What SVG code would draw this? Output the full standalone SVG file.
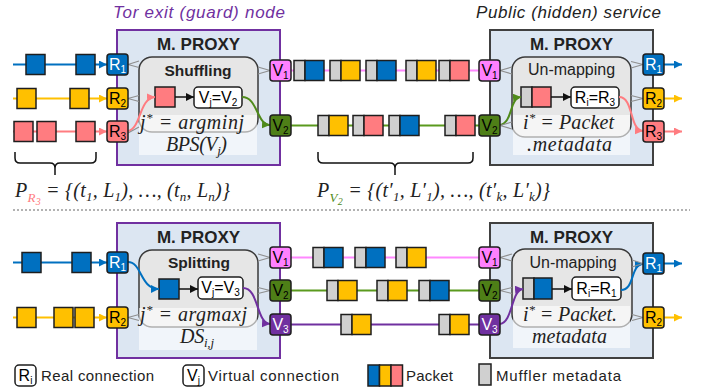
<svg xmlns="http://www.w3.org/2000/svg" width="702" height="391" viewBox="0 0 702 391">
<style>
.sans{font-family:'Liberation Sans',Arial,sans-serif}
.math{font-family:'Liberation Serif','Times New Roman',serif;font-style:italic;font-size:20px;fill:#222}
.pk{stroke:#1e1e1e;stroke-width:1.5}
.g{fill:#d0d0d0}.b{fill:#0070c0}.y{fill:#ffc000}.r{fill:#ff7c80}
.port{stroke:#1e1e1e;stroke-width:1.5}
.pl{font-family:'Liberation Sans',Arial,sans-serif;font-size:16px;text-anchor:middle}
.wedge{stroke:#8f8f8f;stroke-width:1.2;fill:none}
.outer{fill:#dce6f2;stroke-width:2}
.inner{fill:#e6e6e6;stroke:#3a3a3a;stroke-width:1.5}
.veil{fill:#ffffff;opacity:0.6}
.wbox{fill:#ffffff;stroke:#1e1e1e;stroke-width:1.5}
.title{font-family:'Liberation Sans',Arial,sans-serif;font-size:17px;font-weight:bold;text-anchor:middle;fill:#222}
.leg{font-family:'Liberation Sans',Arial,sans-serif;font-size:15px;fill:#222}
</style>
<defs>
<marker id="aBlue" markerUnits="userSpaceOnUse" markerWidth="9" markerHeight="9" refX="8" refY="4" orient="auto"><path d="M0,0 L8,4 L0,8 z" fill="#0070c0"/></marker>
<marker id="aYel" markerUnits="userSpaceOnUse" markerWidth="9" markerHeight="9" refX="8" refY="4" orient="auto"><path d="M0,0 L8,4 L0,8 z" fill="#ffc000"/></marker>
<marker id="aRed" markerUnits="userSpaceOnUse" markerWidth="9" markerHeight="9" refX="8" refY="4" orient="auto"><path d="M0,0 L8,4 L0,8 z" fill="#ff7c80"/></marker>
<marker id="aGrn" markerUnits="userSpaceOnUse" markerWidth="9" markerHeight="9" refX="8" refY="4" orient="auto"><path d="M0,0 L8,4 L0,8 z" fill="#4f8a1a"/></marker>
<marker id="aPur" markerUnits="userSpaceOnUse" markerWidth="9" markerHeight="9" refX="8" refY="4" orient="auto"><path d="M0,0 L8,4 L0,8 z" fill="#7030a0"/></marker>
<marker id="aBlk" markerUnits="userSpaceOnUse" markerWidth="9" markerHeight="9" refX="8" refY="4" orient="auto"><path d="M0,0 L8,4 L0,8 z" fill="#111"/></marker>
</defs>

<!-- headings -->
<text class="sans" x="113" y="18" font-size="17" font-style="italic" fill="#7030a0" textLength="172">Tor exit (guard) node</text>
<text class="sans" x="476" y="18" font-size="17" font-style="italic" fill="#222" textLength="185">Public (hidden) service</text>

<!-- proxy boxes -->
<g id="proxy-top-left">
<rect class="outer" x="117" y="30" width="163" height="135" stroke="#7030a0"/>
<text class="title" x="198.5" y="50">M. PROXY</text>
<rect class="inner" x="139" y="57" width="119" height="75" rx="13"/>
<rect class="veil" x="139" y="115" width="118" height="40"/>
<text class="sans" x="198" y="76" font-size="15.5" font-weight="bold" text-anchor="middle" fill="#222">Shuffling</text>
<rect class="pk r" x="155" y="87" width="20" height="20"/>
<rect class="wbox" x="194" y="87" width="48" height="21" rx="4"/>
<text class="pl" x="218" y="103">V<tspan font-size="10" dy="3">j</tspan><tspan dy="-3">=V</tspan><tspan font-size="10" dy="3">2</tspan></text>
<text class="math" x="140" y="129" textLength="104">j<tspan font-size="13" dy="-7">*</tspan><tspan dy="7"> = argminj</tspan></text>
<text class="math" x="166" y="151" textLength="61">BPS(V<tspan font-size="13" dy="4">j</tspan><tspan dy="-4">)</tspan></text>
</g>
<g id="proxy-top-right">
<rect class="outer" x="490" y="30" width="163" height="135" stroke="#404040"/>
<text class="title" x="571.5" y="50">M. PROXY</text>
<rect class="inner" x="512" y="57" width="119" height="80" rx="13"/>
<rect class="veil" x="513" y="115" width="117" height="40"/>
<text class="sans" x="571.5" y="75" font-size="16" text-anchor="middle" fill="#222">Un-mapping</text>
<rect class="pk g" x="521" y="87" width="11" height="20"/>
<rect class="pk r" x="532" y="87" width="19" height="20"/>
<rect class="wbox" x="571" y="87" width="48" height="21" rx="4"/>
<text class="pl" x="595" y="103">R<tspan font-size="10" dy="3">i</tspan><tspan dy="-3">=R</tspan><tspan font-size="10" dy="3">3</tspan></text>
<text class="math" x="523" y="129" textLength="91">i<tspan font-size="13" dy="-7">*</tspan><tspan dy="7"> = Packet</tspan></text>
<text class="math" x="527" y="151" textLength="85">.metadata</text>
</g>
<g id="proxy-bottom-left">
<rect class="outer" x="117" y="223" width="163" height="135" stroke="#7030a0"/>
<text class="title" x="198.5" y="243">M. PROXY</text>
<rect class="inner" x="139" y="250" width="119" height="77" rx="13"/>
<rect class="veil" x="139" y="308" width="118" height="42"/>
<text class="sans" x="199" y="268" font-size="15.5" font-weight="bold" text-anchor="middle" fill="#222">Splitting</text>
<rect class="pk b" x="159" y="279" width="20" height="20"/>
<rect class="wbox" x="198" y="277" width="45" height="22" rx="4"/>
<text class="pl" x="220.5" y="293">V<tspan font-size="10" dy="3">j</tspan><tspan dy="-3">=V</tspan><tspan font-size="10" dy="3">3</tspan></text>
<text class="math" x="140" y="321" textLength="107">j<tspan font-size="13" dy="-7">*</tspan><tspan dy="7"> = argmaxj</tspan></text>
<text class="math" x="180" y="343" textLength="34">DS<tspan font-size="13" dy="4">i,j</tspan></text>
</g>
<g id="proxy-bottom-right">
<rect class="outer" x="490" y="223" width="163" height="135" stroke="#404040"/>
<text class="title" x="571.5" y="243">M. PROXY</text>
<rect class="inner" x="512" y="249" width="120" height="78" rx="13"/>
<rect class="veil" x="513" y="306" width="117" height="42"/>
<text class="sans" x="573" y="268" font-size="16" text-anchor="middle" fill="#222">Un-mapping</text>
<rect class="pk g" x="523" y="278" width="11" height="21"/>
<rect class="pk b" x="534" y="278" width="18" height="21"/>
<rect class="wbox" x="572" y="277" width="49" height="23" rx="4"/>
<text class="pl" x="596.5" y="294">R<tspan font-size="10" dy="3">i</tspan><tspan dy="-3">=R</tspan><tspan font-size="10" dy="3">1</tspan></text>
<text class="math" x="523" y="321" textLength="94">i<tspan font-size="13" dy="-7">*</tspan><tspan dy="7"> = Packet.</tspan></text>
<text class="math" x="532" y="343" textLength="75">metadata</text>
</g>

<!-- connectors -->
<g id="connectors" fill="none" stroke-width="2">
<line x1="13" y1="64.5" x2="107" y2="64.5" stroke="#0070c0" marker-end="url(#aBlue)"/>
<line x1="13" y1="98.5" x2="107" y2="98.5" stroke="#ffc000" marker-end="url(#aYel)"/>
<line x1="13" y1="131.5" x2="107" y2="131.5" stroke="#ff7c80" marker-end="url(#aRed)"/>
<line x1="291" y1="70.5" x2="479" y2="70.5" stroke="#ff88ff"/>
<line x1="291" y1="125.5" x2="479" y2="125.5" stroke="#5a9a1e"/>
<line x1="664" y1="64.5" x2="682" y2="64.5" stroke="#0070c0" marker-end="url(#aBlue)"/>
<line x1="664" y1="98.5" x2="682" y2="98.5" stroke="#ffc000" marker-end="url(#aYel)"/>
<line x1="664" y1="131.5" x2="682" y2="131.5" stroke="#ff7c80" marker-end="url(#aRed)"/>
<line x1="13" y1="262.5" x2="107" y2="262.5" stroke="#0070c0" marker-end="url(#aBlue)"/>
<line x1="13" y1="317.5" x2="107" y2="317.5" stroke="#ffc000" marker-end="url(#aYel)"/>
<line x1="291" y1="257.5" x2="479" y2="257.5" stroke="#ff88ff"/>
<line x1="291" y1="290.5" x2="479" y2="290.5" stroke="#5a9a1e"/>
<line x1="291" y1="324.5" x2="479" y2="324.5" stroke="#7030a0"/>
<line x1="664" y1="263.5" x2="682" y2="263.5" stroke="#0070c0" marker-end="url(#aBlue)"/>
<line x1="664" y1="317.5" x2="682" y2="317.5" stroke="#ffc000" marker-end="url(#aYel)"/>
<line x1="175" y1="97" x2="194" y2="97" stroke="#111" stroke-width="1.5" marker-end="url(#aBlk)"/>
<line x1="551" y1="97" x2="571" y2="97" stroke="#111" stroke-width="1.5" marker-end="url(#aBlk)"/>
<line x1="179" y1="289" x2="198" y2="289" stroke="#111" stroke-width="1.5" marker-end="url(#aBlk)"/>
<line x1="552" y1="289" x2="572" y2="289" stroke="#111" stroke-width="1.5" marker-end="url(#aBlk)"/>
<path d="M128,131 C141,129 139,98 155,97" stroke="#ff7c80" marker-end="url(#aRed)"/>
<path d="M242,97 C258,97 256,124 270,125" stroke="#4f8a1a" marker-end="url(#aGrn)"/>
<path d="M500,125 C513,123 509,98 521,97" stroke="#4f8a1a" marker-end="url(#aGrn)"/>
<path d="M619,97 C634,97 629,130 643,131" stroke="#ff7c80" marker-end="url(#aRed)"/>
<path d="M128,262 C142,262 140,289 159,289" stroke="#0070c0" marker-end="url(#aBlue)"/>
<path d="M243,288 C259,288 256,323 270,324" stroke="#7030a0" marker-end="url(#aPur)"/>
<path d="M500,324 C513,322 511,290 523,289" stroke="#7030a0" marker-end="url(#aPur)"/>
<path d="M621,290 C635,290 630,265 643,264" stroke="#0070c0" marker-end="url(#aBlue)"/>
<path class="wedge" d="M128,64.5 L139,61 M128,64.5 L139,67.5 M128,98.5 L139,95.5 M128,98.5 L139,101.5 M128,133 L139,127 M270,70.5 L258,67 M270,70.5 L258,74"/>
<path class="wedge" d="M500,70.5 L512,67 M500,70.5 L512,74 M500,125.5 L512,122 M500,125.5 L512,129 M643,64.5 L631,61.5 M643,64.5 L631,68 M643,98.5 L631,95.5 M643,98.5 L631,101.5"/>
<path class="wedge" d="M128,317.5 L139,314.5 M128,317.5 L139,320.5 M270,257.5 L258,254 M270,257.5 L258,261 M270,290.5 L258,287.5 M270,290.5 L258,293.5"/>
<path class="wedge" d="M500,257.5 L512,254 M500,257.5 L512,261 M500,290.5 L512,287.5 M500,290.5 L512,293.5 M643,263.5 L632,260 M643,263.5 L632,267 M643,317.5 L632,314.5 M643,317.5 L632,320.5"/>
</g>

<!-- ports -->
<g id="port-tl-R1"><rect class="port b" x="107" y="54" width="21" height="21" rx="3"/><text class="pl" x="117.5" y="70" fill="#fff">R<tspan font-size="10" dy="3">1</tspan></text></g>
<g id="port-tl-R2"><rect class="port y" x="107" y="88" width="21" height="21" rx="3"/><text class="pl" x="117.5" y="104">R<tspan font-size="10" dy="3">2</tspan></text></g>
<g id="port-tl-R3"><rect class="port r" x="107" y="121" width="21" height="21" rx="3"/><text class="pl" x="117.5" y="137">R<tspan font-size="10" dy="3">3</tspan></text></g>
<g id="port-tl-V1"><rect class="port" fill="#ff80ff" x="270" y="60" width="21" height="21" rx="3"/><text class="pl" x="280.5" y="76">V<tspan font-size="10" dy="3">1</tspan></text></g>
<g id="port-tl-V2"><rect class="port" fill="#4e7f17" x="270" y="115" width="21" height="21" rx="3"/><text class="pl" x="280.5" y="131">V<tspan font-size="10" dy="3">2</tspan></text></g>

<g id="port-tr-V1"><rect class="port" fill="#ff80ff" x="479" y="60" width="21" height="21" rx="3"/><text class="pl" x="489.5" y="76">V<tspan font-size="10" dy="3">1</tspan></text></g>
<g id="port-tr-V2"><rect class="port" fill="#4e7f17" x="479" y="115" width="21" height="21" rx="3"/><text class="pl" x="489.5" y="131">V<tspan font-size="10" dy="3">2</tspan></text></g>
<g id="port-tr-R1"><rect class="port b" x="643" y="54" width="21" height="21" rx="3"/><text class="pl" x="653.5" y="70" fill="#fff">R<tspan font-size="10" dy="3">1</tspan></text></g>
<g id="port-tr-R2"><rect class="port y" x="643" y="88" width="21" height="21" rx="3"/><text class="pl" x="653.5" y="104">R<tspan font-size="10" dy="3">2</tspan></text></g>
<g id="port-tr-R3"><rect class="port r" x="643" y="121" width="21" height="21" rx="3"/><text class="pl" x="653.5" y="137">R<tspan font-size="10" dy="3">3</tspan></text></g>

<g id="port-bl-R1"><rect class="port b" x="107" y="252" width="21" height="21" rx="3"/><text class="pl" x="117.5" y="268" fill="#fff">R<tspan font-size="10" dy="3">1</tspan></text></g>
<g id="port-bl-R2"><rect class="port y" x="107" y="307" width="21" height="21" rx="3"/><text class="pl" x="117.5" y="323">R<tspan font-size="10" dy="3">2</tspan></text></g>
<g id="port-bl-V1"><rect class="port" fill="#ff80ff" x="270" y="247" width="21" height="21" rx="3"/><text class="pl" x="280.5" y="263">V<tspan font-size="10" dy="3">1</tspan></text></g>
<g id="port-bl-V2"><rect class="port" fill="#4e7f17" x="270" y="280" width="21" height="21" rx="3"/><text class="pl" x="280.5" y="296">V<tspan font-size="10" dy="3">2</tspan></text></g>
<g id="port-bl-V3"><rect class="port" fill="#7030a0" x="270" y="314" width="21" height="21" rx="3"/><text class="pl" x="280.5" y="330" fill="#fff">V<tspan font-size="10" dy="3">3</tspan></text></g>

<g id="port-br-V1"><rect class="port" fill="#ff80ff" x="479" y="247" width="21" height="21" rx="3"/><text class="pl" x="489.5" y="263">V<tspan font-size="10" dy="3">1</tspan></text></g>
<g id="port-br-V2"><rect class="port" fill="#4e7f17" x="479" y="280" width="21" height="21" rx="3"/><text class="pl" x="489.5" y="296">V<tspan font-size="10" dy="3">2</tspan></text></g>
<g id="port-br-V3"><rect class="port" fill="#7030a0" x="479" y="314" width="21" height="21" rx="3"/><text class="pl" x="489.5" y="330" fill="#fff">V<tspan font-size="10" dy="3">3</tspan></text></g>
<g id="port-br-R1"><rect class="port b" x="643" y="253" width="21" height="21" rx="3"/><text class="pl" x="653.5" y="269" fill="#fff">R<tspan font-size="10" dy="3">1</tspan></text></g>
<g id="port-br-R2"><rect class="port y" x="643" y="307" width="21" height="21" rx="3"/><text class="pl" x="653.5" y="323">R<tspan font-size="10" dy="3">2</tspan></text></g>

<!-- packets on input lines -->
<g id="packets-in">
<rect class="pk b" x="26" y="54.5" width="19" height="20"/><rect class="pk b" x="76" y="54.5" width="19" height="20"/>
<rect class="pk y" x="17" y="88.5" width="19" height="20"/><rect class="pk y" x="70" y="88.5" width="19" height="20"/>
<rect class="pk r" x="14" y="121.5" width="19" height="20"/><rect class="pk r" x="37" y="121.5" width="19" height="20"/><rect class="pk r" x="76" y="121.5" width="19" height="20"/>
<rect class="pk b" x="22" y="252.5" width="19" height="20"/><rect class="pk b" x="72" y="252.5" width="19" height="20"/>
<rect class="pk y" x="17" y="307.5" width="19" height="20"/><rect class="pk y" x="54" y="307.5" width="19" height="20"/><rect class="pk y" x="75" y="307.5" width="19" height="20"/>
</g>
<!-- packets on virtual lines -->
<g id="packets-virtual">
<rect class="pk g" x="294" y="60.5" width="11" height="20"/><rect class="pk b" x="305" y="60.5" width="19" height="20"/>
<rect class="pk g" x="330" y="60.5" width="11" height="20"/><rect class="pk y" x="341" y="60.5" width="19" height="20"/>
<rect class="pk g" x="366" y="60.5" width="11" height="20"/><rect class="pk b" x="377" y="60.5" width="19" height="20"/>
<rect class="pk g" x="406" y="60.5" width="11" height="20"/><rect class="pk y" x="417" y="60.5" width="19" height="20"/>
<rect class="pk g" x="439" y="60.5" width="11" height="20"/><rect class="pk r" x="450" y="60.5" width="19" height="20"/>

<rect class="pk g" x="318" y="115.5" width="11" height="20"/><rect class="pk y" x="329" y="115.5" width="19" height="20"/>
<rect class="pk g" x="353" y="115.5" width="11" height="20"/><rect class="pk r" x="364" y="115.5" width="19" height="20"/>
<rect class="pk g" x="389" y="115.5" width="11" height="20"/><rect class="pk b" x="400" y="115.5" width="19" height="20"/>
<rect class="pk g" x="445" y="115.5" width="11" height="20"/><rect class="pk r" x="456" y="115.5" width="19" height="20"/>

<rect class="pk g" x="313" y="247.5" width="11" height="20"/><rect class="pk b" x="324" y="247.5" width="19" height="20"/>
<rect class="pk g" x="355" y="247.5" width="11" height="20"/><rect class="pk b" x="366" y="247.5" width="19" height="20"/>
<rect class="pk g" x="396" y="247.5" width="11" height="20"/><rect class="pk y" x="407" y="247.5" width="19" height="20"/>

<rect class="pk g" x="327" y="280.5" width="11" height="20"/><rect class="pk y" x="338" y="280.5" width="19" height="20"/>
<rect class="pk g" x="377" y="280.5" width="11" height="20"/><rect class="pk y" x="388" y="280.5" width="19" height="20"/>
<rect class="pk g" x="419" y="280.5" width="11" height="20"/><rect class="pk b" x="430" y="280.5" width="19" height="20"/>

<rect class="pk g" x="341" y="314.5" width="11" height="20"/><rect class="pk y" x="352" y="314.5" width="19" height="20"/>
<rect class="pk g" x="439" y="314.5" width="11" height="20"/><rect class="pk y" x="450" y="314.5" width="19" height="20"/>
</g>

<!-- braces and formulas -->
<g id="brace-left" fill="none" stroke="#111" stroke-width="1.5">
<path d="M15,152 V158 Q15,163 20,163 H50 Q55,163 55,168 V175 M55,168 Q55,163 60,163 H91 Q96,163 96,158 V152"/>
</g>
<g id="brace-right" fill="none" stroke="#111" stroke-width="1.5">
<path d="M318,152 V158 Q318,163 323,163 H390 Q395,163 395,168 V175 M395,168 Q395,163 400,163 H468 Q473,163 473,158 V152"/>
</g>
<text class="math" x="15" y="197" textLength="215" font-size="20">P<tspan font-size="13" dy="5" fill="#ff7c80">R<tspan font-size="10" dy="3">3</tspan></tspan><tspan dy="-8"> = {(t</tspan><tspan font-size="13" dy="4">1</tspan><tspan dy="-4">, L</tspan><tspan font-size="13" dy="4">1</tspan><tspan dy="-4">), …, (t</tspan><tspan font-size="13" dy="4">n</tspan><tspan dy="-4">, L</tspan><tspan font-size="13" dy="4">n</tspan><tspan dy="-4">)}</tspan></text>
<text class="math" x="317" y="197" textLength="233" font-size="20">P<tspan font-size="13" dy="5" fill="#4f8a1a">V<tspan font-size="10" dy="3">2</tspan></tspan><tspan dy="-8"> = {(t′</tspan><tspan font-size="13" dy="4">1</tspan><tspan dy="-4">, L′</tspan><tspan font-size="13" dy="4">1</tspan><tspan dy="-4">), …, (t′</tspan><tspan font-size="13" dy="4">k</tspan><tspan dy="-4">, L′</tspan><tspan font-size="13" dy="4">k</tspan><tspan dy="-4">)}</tspan></text>

<!-- separator -->
<line x1="13" y1="210" x2="690" y2="210" stroke="#999" stroke-width="1.5" stroke-dasharray="2,2"/>

<!-- legend -->
<g id="legend">
<rect class="wbox" x="15" y="365" width="21" height="21" rx="4"/>
<text class="pl" x="25.5" y="381">R<tspan font-size="10" dy="3">i</tspan></text>
<text class="leg" x="41" y="381" textLength="113">Real connection</text>
<rect class="wbox" x="183" y="365" width="21" height="21" rx="4"/>
<text class="pl" x="193.5" y="381">V<tspan font-size="10" dy="3">j</tspan></text>
<text class="leg" x="208" y="381" textLength="131">Virtual connection</text>
<rect class="pk b" x="368" y="365" width="11.5" height="21"/><rect class="pk y" x="379.5" y="365" width="11.5" height="21"/><rect class="pk r" x="391" y="365" width="11.5" height="21"/>
<text class="leg" x="406" y="381" textLength="47">Packet</text>
<rect class="pk g" x="479" y="364" width="12" height="21"/>
<text class="leg" x="496" y="381" textLength="125">Muffler metadata</text>
</g>
</svg>
